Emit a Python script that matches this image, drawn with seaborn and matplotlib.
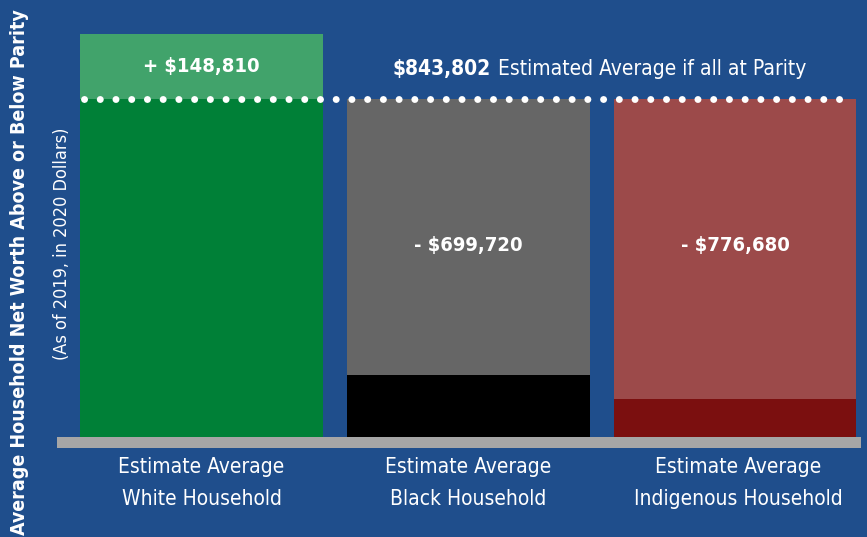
import matplotlib
matplotlib.use("Agg")
import matplotlib.pyplot as plt
import seaborn as sns
import pandas as pd
from matplotlib import font_manager as fm

# ---- data ----
categories = ["Estimate Average\nWhite Household",
              "Estimate Average\nBlack Household",
              "Estimate Average\nIndigenous Household"]
parity = 843802
totals = [1005000, 843802, 843802]        # top of each bar
bases = [843802, 155000, 95000]           # lower (dark) segment
gap_labels = ["+ $148,810", "- $699,720", "- $776,680"]
parity_label_bold = "$843,802"
parity_label_rest = " Estimated Average if all at Parity"
top_colors = ["#41a36b", "#666666", "#9c4a4a"]
base_colors = ["#008037", "#000000", "#7b0f0f"]

BG = "#1f4e8c"
names = [f.name for f in fm.fontManager.ttflist]
if "Liberation Sans Narrow" in names:
    FONT = "Liberation Sans Narrow"
    STRETCH = "normal"
else:
    FONT = "DejaVu Sans"
    STRETCH = "condensed"

sns.set_style("white")
plt.rcParams["font.family"] = [FONT, "DejaVu Sans"]

fig = plt.figure(figsize=(8.67, 5.37), dpi=100, facecolor=BG)
W, H = 867, 537
px_left, px_right, px_top, px_bot = 57, 861, 0, 448
ax = fig.add_axes([px_left / W, 1 - px_bot / H, (px_right - px_left) / W, (px_bot - px_top) / H])
ax.set_facecolor(BG)

per_px = parity / (437 - 99)
ymax = 437 * per_px
ymin = -11 * per_px

df_top = pd.DataFrame({"cat": categories, "val": totals})
df_base = pd.DataFrame({"cat": categories, "val": bases})
sns.barplot(data=df_top, x="cat", y="val", hue="cat", palette=top_colors,
            width=0.91, legend=False, ax=ax, saturation=1, linewidth=0)
sns.barplot(data=df_base, x="cat", y="val", hue="cat", palette=base_colors,
            width=0.91, legend=False, ax=ax, saturation=1, linewidth=0)

x0 = -(201.5 - px_left) / 267
x1 = 2 + (px_right - 735) / 267
ax.set_xlim(x0, x1)
ax.set_ylim(ymin, ymax)
ax.axhspan(ymin, 0, color="#a6a6a6", zorder=3, lw=0)

# parity dotted line
ax.plot([(84 - 201.5) / 267, (840 - 201.5) / 267], [parity, parity], color="white", lw=5,
        linestyle=(0, (0.01, 2.255)), dash_capstyle="round", zorder=5)

for sp in ax.spines.values():
    sp.set_visible(False)
ax.set_xticks([])
ax.set_yticks([])
ax.set_xlabel("")
ax.set_ylabel("")

# gap labels
ax.text(0, parity + 32 * per_px, gap_labels[0], color="white", fontsize=14.5,
        fontweight="bold", ha="center", va="center", fontstretch=STRETCH)
for i in (1, 2):
    ax.text(i, parity - 147 * per_px, gap_labels[i], color="white", fontsize=14.5,
            fontweight="bold", ha="center", va="center", fontstretch=STRETCH)

# parity label
fig.text(491 / W, 1 - 69 / H, parity_label_bold, color="white", fontsize=15,
         fontweight="bold", ha="right", va="center", fontstretch=STRETCH)
fig.text(492 / W, 1 - 69 / H, parity_label_rest, color="white", fontsize=15,
         ha="left", va="center", fontstretch=STRETCH)

# category labels
centers_px = [201.5, 468.5, 738]
for c, lab in zip(centers_px, categories):
    fig.text(c / W, 1 - 483 / H, lab, color="white", fontsize=15,
             ha="center", va="center", linespacing=1.75, fontstretch=STRETCH)

# y labels
fig.text(20 / W, 1 - 272 / H, "Average Household Net Worth Above or Below Parity",
         color="white", fontsize=14, fontweight="bold", rotation=90,
         ha="center", va="center", fontstretch=STRETCH)
fig.text(62 / W, 1 - 244 / H, "(As of 2019, in 2020 Dollars)",
         color="white", fontsize=13, rotation=90,
         ha="center", va="center", fontstretch=STRETCH)

fig.savefig("out.png", dpi=100, facecolor=BG)
